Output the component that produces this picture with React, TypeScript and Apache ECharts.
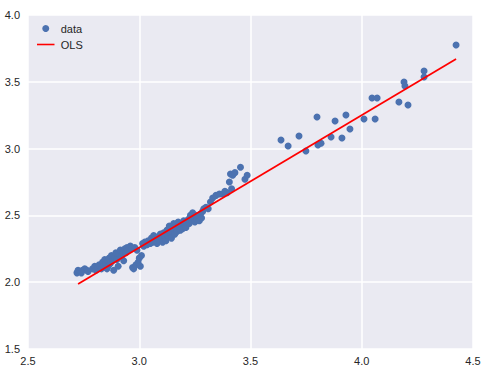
import React, { useEffect, useRef } from "react";
import * as echarts from "echarts";

const xTicks = [2.5, 3.0, 3.5, 4.0, 4.5];
const yTicks = [1.5, 2.0, 2.5, 3.0, 3.5, 4.0];

const dataX = [
  2.72, 2.725, 2.735, 2.745, 2.755, 2.765, 2.77, 2.74,
  2.79, 2.8, 2.805, 2.815, 2.82, 2.83, 2.835, 2.84, 2.845, 2.85, 2.855, 2.86, 2.86,
  2.865, 2.87, 2.875, 2.88, 2.885, 2.89, 2.895, 2.9, 2.905, 2.91, 2.915, 2.92, 2.925, 2.93, 2.935, 2.94,
  2.945, 2.95, 2.96, 2.965, 2.97, 2.975, 2.98, 2.985, 2.99, 2.995, 3.0, 3.005, 3.01, 3.015, 3.02, 3.025,
  3.035, 3.04, 3.05, 3.055, 3.06, 3.065, 3.07, 3.08, 3.085, 3.09, 3.095, 3.1, 3.105, 3.11, 3.115, 3.12, 3.125, 3.13,
  3.135, 3.14, 3.145, 3.15, 3.155, 3.16, 3.165, 3.17, 3.175, 3.18, 3.185, 3.19, 3.195, 3.2, 3.205, 3.21,
  3.22, 3.225, 3.23, 3.235, 3.24, 3.245, 3.25, 3.255, 3.26, 3.265, 3.27, 3.275, 3.28, 3.285, 3.29,
  3.3, 3.31, 3.32, 3.33, 3.345, 3.36, 3.375, 3.385, 3.395, 3.405, 3.41, 3.415, 3.42, 3.43, 3.455, 3.475, 3.485,
  3.637, 3.669, 3.718, 3.749, 3.799, 3.803, 3.817, 3.862, 3.88, 3.911, 3.929, 3.947,
  4.01, 4.046, 4.069, 4.06, 4.167, 4.19, 4.194, 4.208, 4.28, 4.28, 4.424,
];
const dataY = [
  2.07, 2.09, 2.08, 2.09, 2.1, 2.09, 2.08, 2.07,
  2.1, 2.12, 2.09, 2.11, 2.13, 2.1, 2.15, 2.12, 2.17, 2.14, 2.1, 2.16, 2.12,
  2.18, 2.14, 2.2, 2.16, 2.09, 2.19, 2.22, 2.17, 2.12, 2.21, 2.24, 2.19, 2.23, 2.16, 2.25, 2.22,
  2.26, 2.24, 2.27, 2.25, 2.11, 2.1, 2.26, 2.13, 2.24, 2.15, 2.18, 2.12, 2.2, 2.29, 2.27, 2.3,
  2.28, 2.31, 2.29, 2.33, 2.3, 2.35, 2.32, 2.29, 2.34, 2.31, 2.36, 2.33, 2.3, 2.37, 2.34, 2.31, 2.39, 2.35,
  2.42, 2.37, 2.33, 2.4, 2.44, 2.36, 2.41, 2.38, 2.45, 2.42, 2.39, 2.44, 2.4, 2.46, 2.43, 2.41,
  2.47, 2.44, 2.5, 2.46, 2.52, 2.48, 2.45, 2.5, 2.47, 2.49, 2.46, 2.51, 2.48, 2.53, 2.55,
  2.56, 2.55, 2.6, 2.63, 2.65, 2.66, 2.66, 2.68, 2.67, 2.75, 2.81, 2.7, 2.8, 2.82, 2.86, 2.77, 2.8,
  3.064, 3.019, 3.094, 2.982, 3.237, 3.027, 3.04, 3.087, 3.207, 3.079, 3.251, 3.147,
  3.222, 3.379, 3.379, 3.222, 3.349, 3.499, 3.469, 3.326, 3.581, 3.536, 3.775,
];

const olsX = [2.725, 4.424];
const olsY = [1.987, 3.671];

const labelFont = "'Liberation Sans', Arial, sans-serif";
const textColor = "#262626";

export default function App() {
  const ref = useRef<HTMLDivElement>(null);
  useEffect(() => {
    if (!ref.current) return;
    const chart = echarts.init(ref.current, undefined, { renderer: "svg" });
    const scatterData = dataX.map((x, i) => [x, dataY[i]]);
    const olsData = olsX.map((x, i) => [x, olsY[i]]);
    chart.setOption({
      animation: false,
      backgroundColor: "#ffffff",
      grid: {
        left: 28,
        right: 14,
        top: 15,
        bottom: 23,
        show: true,
        backgroundColor: "#EAEAF2",
        borderWidth: 0,
      },
      legend: {
        orient: "vertical",
        left: 32,
        top: 18,
        itemWidth: 20,
        itemHeight: 7,
        itemGap: 5,
        textStyle: { fontSize: 11, color: textColor, fontFamily: labelFont },
        data: [
          { name: "data", icon: "circle" },
          { name: "OLS", icon: "path://M0,0 M0,3.1 L20,3.1 L20,4.9 L0,4.9 Z M20,8" },
        ],
      },
      xAxis: {
        type: "value",
        min: xTicks[0],
        max: xTicks[xTicks.length - 1],
        interval: 0.5,
        axisLine: { show: false },
        axisTick: { show: false },
        splitLine: { show: true, lineStyle: { color: "#ffffff", width: 1.5 } },
        axisLabel: {
          fontSize: 11,
          color: textColor,
          fontFamily: labelFont,
          margin: 6,
          formatter: (v: number) => v.toFixed(1),
        },
      },
      yAxis: {
        type: "value",
        min: yTicks[0],
        max: yTicks[yTicks.length - 1],
        interval: 0.5,
        axisLine: { show: false },
        axisTick: { show: false },
        splitLine: { show: true, lineStyle: { color: "#ffffff", width: 1.5 } },
        axisLabel: {
          fontSize: 11,
          color: textColor,
          fontFamily: labelFont,
          margin: 8,
          formatter: (v: number) => v.toFixed(1),
        },
      },
      series: [
        {
          name: "data",
          type: "scatter",
          data: scatterData,
          symbol: "circle",
          symbolSize: 7,
          itemStyle: { color: "#4C72B0", borderWidth: 0, opacity: 1 },
          z: 2,
        },
        {
          name: "OLS",
          type: "line",
          data: olsData,
          showSymbol: false,
          symbol: "none",
          lineStyle: { color: "#ff0000", width: 1.75 },
          itemStyle: { color: "#ff0000" },
          z: 3,
        },
      ],
    });
    return () => chart.dispose();
  }, []);
  return (
    <div
      ref={ref}
      style={{ position: "fixed", left: 0, top: 0, width: 487, height: 372 }}
    />
  );
}
